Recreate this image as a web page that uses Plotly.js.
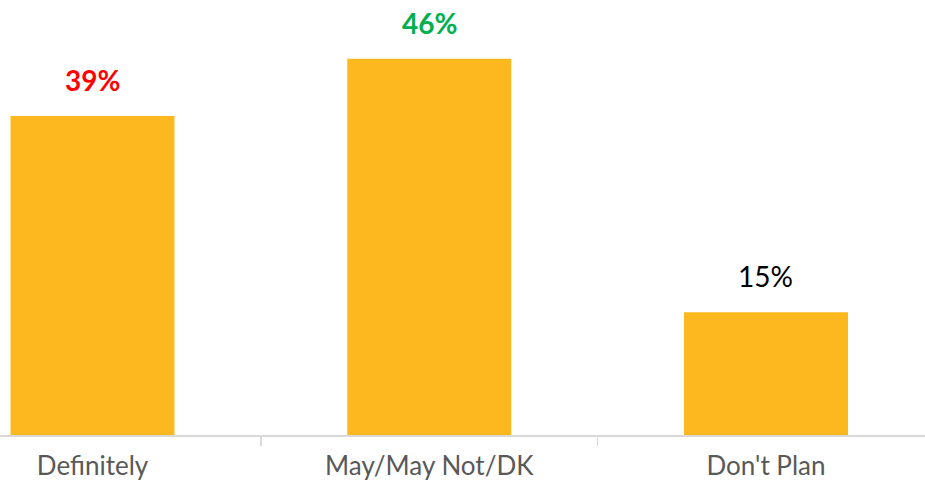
<!DOCTYPE html>
<html>
<head>
<meta charset="utf-8">
<script src="https://cdn.plot.ly/plotly-3.0.1.min.js"></script>
<style>html,body{margin:0;padding:0;background:#fff;}#chart{width:925px;height:484px;}</style>
</head>
<body>
<div id="chart"></div>
<script>
const categories = ["Definitely", "May/May Not/DK", "Don't Plan"];
const values = [39, 46, 15];
const valueLabels = ["39%", "46%", "15%"];
const labelColors = ["#FF0000", "#00B050", "#000000"];
const labelBold = [true, true, false];

const FONT = "Lato, 'Open Sans', sans-serif";

const trace = {
  type: "bar",
  x: categories,
  y: values,
  marker: { color: "#FDB71F" },
  hoverinfo: "none"
};

const annotations = categories.map((c, i) => ({
  x: c,
  y: values[i],
  xref: "x",
  yref: "y",
  text: labelBold[i] ? "<b>" + valueLabels[i] + "</b>" : valueLabels[i],
  showarrow: false,
  yanchor: "bottom",
  yshift: 17,
  font: { family: FONT, size: 28, color: labelColors[i] }
}));

const layout = {
  width: 925,
  height: 484,
  margin: { l: 0, r: 0, t: 0, b: 49 },
  paper_bgcolor: "#ffffff",
  plot_bgcolor: "#ffffff",
  showlegend: false,
  bargap: 0.513,
  xaxis: {
    type: "category",
    range: [-0.2747, 2.4722],
    showline: true,
    linecolor: "#D9D9D9",
    linewidth: 1.5,
    ticks: "outside",
    tickson: "boundaries",
    ticklen: 9,
    tickcolor: "#D9D9D9",
    tickwidth: 1.5,
    ticklabelstandoff: 7,
    showgrid: false,
    zeroline: false,
    tickfont: { family: FONT, size: 26, color: "#595959" },
    fixedrange: true
  },
  yaxis: {
    range: [0, 53.2],
    visible: false,
    showgrid: false,
    zeroline: false,
    fixedrange: true
  },
  annotations: annotations
};

Plotly.newPlot("chart", [trace], layout, { displayModeBar: false, staticPlot: true });
</script>
</body>
</html>
